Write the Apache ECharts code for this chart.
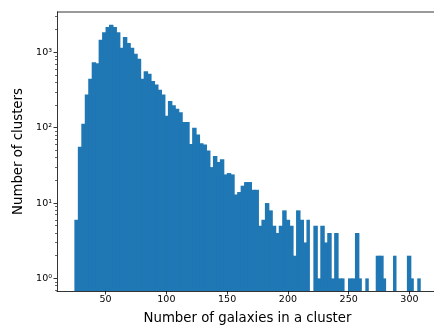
<!DOCTYPE html>
<html>
<head>
<meta charset="utf-8">
<script src="https://cdn.jsdelivr.net/npm/echarts@6/dist/echarts.min.js"></script>
<style>
  html, body { margin: 0; padding: 0; background: #fff; }
  #chart { width: 434px; height: 325px; }
</style>
</head>
<body>
<div id="chart"></div>
<script>
// histogram: 100 equal bins starting at binStart
const binStart = 24.3;
const binWidth = 2.85;
const counts = [
  6, 56, 113, 277, 448, 737, 720, 1475, 1844, 2170,
  2333, 2170, 1844, 1154, 1597, 1330, 1154, 961, 825, 448,
  560, 522, 416, 376, 320, 277, 144, 226, 198, 179,
  160, 119, 119, 61, 100, 81, 62, 60, 50, 30,
  42, 35, 38, 24, 25, 24, 13, 14, 17, 19,
  19, 15, 15, 5, 6, 10, 8, 5, 4, 5,
  8, 6, 5, 2, 8, 6, 3, 6, 0, 5,
  1, 5, 3, 4, 1, 4, 1, 1, 0, 1,
  1, 4, 1, 0, 1, 0, 0, 2, 2, 1,
  0, 0, 2, 0, 0, 0, 2, 1, 0, 1
];
const xTicks = [50, 100, 150, 200, 250, 300];
const yTicks = [1, 10, 100, 1000];
const yMinorTicks = [0.7, 0.8, 0.9, 2, 3, 4, 5, 6, 7, 8, 9, 20, 30, 40, 50, 60, 70, 80, 90,
  200, 300, 400, 500, 600, 700, 800, 900, 2000, 3000];
const sup = { 0: "\u2070", 1: "\u00b9", 2: "\u00b2", 3: "\u00b3" };

const Y_MIN = 0.68;
const Y_MAX = 3436;

const bins = [];
counts.forEach(function (c, i) {
  if (c > 0) {
    // next bin non-empty -> overlap a pixel to hide the anti-alias seam
    const joined = i + 1 < counts.length && counts[i + 1] > 0 ? 1 : 0;
    bins.push([binStart + i * binWidth, binStart + (i + 1) * binWidth, c, joined]);
  }
});

const chart = echarts.init(document.getElementById("chart"));
const font = "DejaVu Sans";
const option = {
  animation: false,
  grid: { left: 57, right: -4, top: 12, bottom: 34, outerBoundsMode: "none" },
  xAxis: {
    type: "value",
    min: 10,
    max: 323.5,
    name: "Number of galaxies in a cluster",
    nameLocation: "middle",
    nameGap: 21,
    nameTextStyle: { fontFamily: font, fontSize: 13.3, color: "#000" },
    axisLine: { lineStyle: { color: "#000", width: 0.8 } },
    axisTick: { length: 3.5, lineStyle: { color: "#000", width: 0.8 }, customValues: xTicks },
    axisLabel: { fontFamily: font, fontSize: 9.5, color: "#000", margin: 4, customValues: xTicks },
    splitLine: { show: false },
  },
  yAxis: [
    {
      type: "log",
      min: Y_MIN,
      max: Y_MAX,
      name: "Number of clusters",
      nameLocation: "middle",
      nameGap: 28,
      nameTextStyle: { fontFamily: font, fontSize: 13.3, color: "#000" },
      axisLine: { show: true, lineStyle: { color: "#000", width: 0.8 } },
      axisTick: { show: true, length: 3.5, lineStyle: { color: "#000", width: 0.8 }, customValues: yTicks },
      axisLabel: {
        fontFamily: font,
        fontSize: 9.5,
        color: "#000",
        margin: 5,
        customValues: yTicks,
        formatter: function (v) {
          return "10" + sup[Math.round(Math.log10(v))];
        },
      },
      splitLine: { show: false },
    },
    {
      type: "log",
      min: Y_MIN,
      max: Y_MAX,
      position: "left",
      offset: 0,
      axisLine: { show: false },
      axisTick: { show: true, length: 2, lineStyle: { color: "#000", width: 0.6 }, customValues: yMinorTicks },
      axisLabel: { show: false },
      splitLine: { show: false },
    },
  ],
  series: [
    {
      type: "custom",
      yAxisIndex: 0,
      data: bins,
      encode: { x: [0, 1], y: 2 },
      renderItem: function (params, api) {
        const p0 = api.coord([api.value(0), api.value(2)]);
        const p1 = api.coord([api.value(1), Y_MIN]);
        return {
          type: "rect",
          shape: { x: p0[0], y: p0[1], width: p1[0] - p0[0] + api.value(3), height: p1[1] - p0[1] },
          style: { fill: "#1f77b4" },
        };
      },
    },
  ],
  graphic: [{
    // top spine (matplotlib frame)
    type: "line",
    shape: { x1: 57, y1: 12, x2: 434, y2: 12 },
    style: { stroke: "#000", lineWidth: 0.8 },
  }],
};
chart.setOption(option);
</script>
</body>
</html>
